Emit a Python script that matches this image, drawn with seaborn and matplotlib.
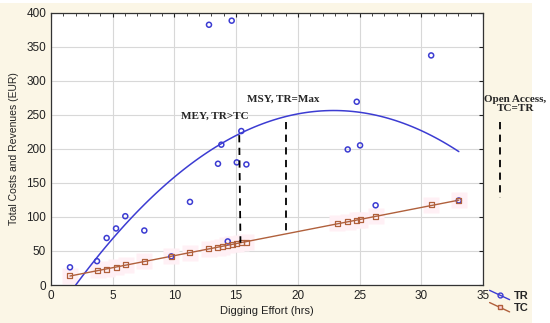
import numpy as np
import pandas as pd
import seaborn as sns
import matplotlib
matplotlib.use('Agg')
import matplotlib.pyplot as plt
from matplotlib.lines import Line2D
from matplotlib.legend_handler import HandlerLine2D
from matplotlib.patches import Rectangle
from matplotlib.ticker import MultipleLocator

# data (the TR at 23.2 hrs is above the 400 axis limit, estimated)
effort = [1.54, 3.73, 4.51, 5.27, 6.02, 7.56, 9.75, 11.26, 12.8, 13.53, 13.8,
          14.32, 14.64, 15.05, 15.42, 15.83, 23.2, 24.04, 24.77, 25.04, 26.3, 30.8, 33.04]
tr = [26, 35, 69, 83, 101, 80, 42, 122, 382, 178, 206,
      64, 388, 180, 226, 177, 480, 199, 269, 205, 117, 337, 124]

effort_tc = [1.54, 3.78, 4.51, 5.27, 6.05, 7.56, 9.75, 11.26, 12.8, 13.5, 13.86,
             14.3, 14.7, 15.0, 15.4, 15.8, 23.2, 24.04, 24.77, 25.04, 26.3, 30.8, 33.04]
tc = [13.7, 22, 23.5, 26, 29.4, 34.8, 42, 47.4, 53, 55, 56.5,
      58.5, 59.5, 60.5, 62, 63, 90.5, 93, 95, 96, 101, 117.5, 124.3]

df_tr = pd.DataFrame({'Effort': effort, 'TR': tr})
df_tc = pd.DataFrame({'Effort': effort_tc, 'TC': tc})

blue = '#3c3cd2'
brown = '#b0603c'

sns.set_style('white')
plt.rcParams['font.family'] = ['Liberation Sans', 'DejaVu Sans']

fig = plt.figure(figsize=(5.5, 3.23), dpi=100)
fig.patch.set_facecolor('white')
fig.patches.append(Rectangle((0, 0), 532 / 550, 320 / 323, transform=fig.transFigure,
                             facecolor='#fbf6e6', edgecolor='none', zorder=-10))
ax = fig.add_axes([0.0927, 0.1176, 0.7855, 0.8437])
ax.set_facecolor('white')

# pink highlight behind the cost points
ax.plot(df_tc['Effort'], df_tc['TC'], 's', ms=11, color='#fff0f5', mec='none', zorder=1)

sns.regplot(data=df_tr, x='Effort', y='TR', order=2, ci=None, scatter=False, ax=ax,
            line_kws={'color': blue, 'lw': 1.1, 'zorder': 3})
sns.scatterplot(data=df_tr, x='Effort', y='TR', ax=ax, marker='o', s=13,
                facecolor='none', edgecolor=blue, linewidth=1.1, zorder=4)

sns.regplot(data=df_tc, x='Effort', y='TC', ci=None, scatter=False, ax=ax,
            line_kws={'color': brown, 'lw': 1.0, 'zorder': 3})
sns.scatterplot(data=df_tc, x='Effort', y='TC', ax=ax, marker='s', s=13,
                facecolor='none', edgecolor=brown, linewidth=0.9, zorder=4)

# reference lines
ax.plot([15.25, 15.35], [220, 62], ls=(0, (4, 3)), color='black', lw=1.3, zorder=5)
ax.plot([19.0, 19.0], [240, 76], ls=(0, (4, 3)), color='black', lw=1.3, zorder=5)
ax.plot([36.4, 36.4], [240, 128], ls=(0, (4, 3)), color='black', lw=1.3, zorder=5,
        clip_on=False)

serif = dict(family='Liberation Serif', fontweight='bold', fontsize=8)
ax.text(10.5, 247, 'MEY, TR>TC', va='center', ha='left', **serif)
ax.text(15.85, 272, 'MSY, TR=Max', va='center', ha='left', **serif)
ax.text(37.6, 265, 'Open Access,\nTC=TR', va='center', ha='center',
        linespacing=1.0, **serif)

ax.set_xlim(0, 35)
ax.set_ylim(0, 400)
ax.xaxis.set_major_locator(MultipleLocator(5))
ax.xaxis.set_minor_locator(MultipleLocator(1))
ax.yaxis.set_major_locator(MultipleLocator(50))
ax.grid(True, which='major', color='#d8d8d8', lw=0.8)
ax.tick_params(which='both', direction='in', top=True, right=True, colors='#222222',
               labelsize=8.5, length=3)
ax.tick_params(which='minor', length=2)
for s in ax.spines.values():
    s.set_color('#333333')
    s.set_linewidth(0.9)

ax.set_xlabel('Digging Effort (hrs)', fontsize=8, color='#222222', labelpad=3)
ax.set_ylabel('Total Costs and Revenues (EUR)', fontsize=7.5, color='#222222', labelpad=5)


class SlantHandler(HandlerLine2D):
    def create_artists(self, legend, orig_handle, xdescent, ydescent, width, height,
                       fontsize, trans):
        line = Line2D([0, width], [height * 1.1, -height * 0.1])
        self.update_prop(line, orig_handle, legend)
        line.set_marker('None')
        mark = Line2D([width * 0.5], [height * 0.5])
        self.update_prop(mark, orig_handle, legend)
        mark.set_linestyle('None')
        line.set_transform(trans)
        mark.set_transform(trans)
        return [line, mark]


h_tr = Line2D([], [], color=blue, marker='o', mfc='none', mec=blue, ms=3.5, lw=1)
h_tc = Line2D([], [], color=brown, marker='s', mfc='#ffd0dc', mec=brown, ms=3.5, lw=1)
leg = fig.legend([h_tr, h_tc], ['TR', 'TC'], loc='center left',
                 bbox_to_anchor=(0.872, 0.065), frameon=False, handlelength=1.8,
                 handletextpad=0.4, labelspacing=0.2,
                 prop={'family': 'Liberation Sans', 'weight': 'bold', 'size': 8},
                 handler_map={Line2D: SlantHandler()})

fig.savefig('out.png', dpi=100, facecolor=fig.get_facecolor())
